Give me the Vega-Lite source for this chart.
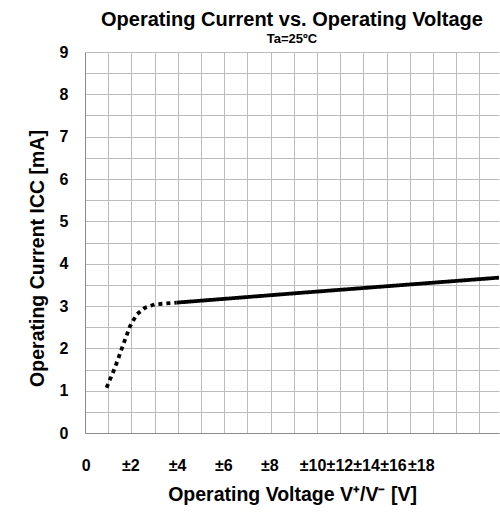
{
  "$schema": "https://vega.github.io/schema/vega-lite/v6.json",
  "width": 414,
  "height": 381,
  "autosize": "none",
  "padding": {"left": 85, "top": 52, "right": 1, "bottom": 79},
  "background": "white",
  "config": {"view": {"stroke": null}, "font": "Liberation Sans"},
  "title": {
    "text": "Operating Current vs. Operating Voltage",
    "subtitle": "Ta=25ºC",
    "fontSize": 20,
    "fontWeight": "bold",
    "color": "black",
    "subtitleFontSize": 13,
    "subtitleFontWeight": "bold",
    "subtitleColor": "black",
    "font": "Liberation Sans",
    "subtitleFont": "Liberation Sans",
    "anchor": "middle",
    "offset": -2,
    "subtitlePadding": 3
  },
  "datasets": {
    "curve": [
      {"v": 0.93, "i": 1.07, "seg": "dot"},
      {"v": 1.29, "i": 1.54, "seg": "dot"},
      {"v": 1.65, "i": 2.09, "seg": "dot"},
      {"v": 1.94, "i": 2.52, "seg": "dot"},
      {"v": 2.23, "i": 2.8, "seg": "dot"},
      {"v": 2.59, "i": 2.96, "seg": "dot"},
      {"v": 3.02, "i": 3.04, "seg": "dot"},
      {"v": 3.5, "i": 3.06, "seg": "dot"},
      {"v": 3.95, "i": 3.08, "seg": "dot"},
      {"v": 3.95, "i": 3.08, "seg": "solid"},
      {"v": 9.27, "i": 3.31, "seg": "solid"},
      {"v": 17.85, "i": 3.67, "seg": "solid"}
    ],
    "xlabels": [
      {"v": 0.05, "t": "0"},
      {"v": 1.98, "t": "±2"},
      {"v": 3.99, "t": "±4"},
      {"v": 5.99, "t": "±6"},
      {"v": 7.97, "t": "±8"},
      {"v": 9.83, "t": "±10"},
      {"v": 10.99, "t": "±12"},
      {"v": 12.14, "t": "±14"},
      {"v": 13.3, "t": "±16"},
      {"v": 14.5, "t": "±18"}
    ]
  },
  "layer": [
    {
      "data": {"name": "curve"},
      "mark": {"type": "line", "strokeWidth": 3.8, "color": "black", "strokeCap": "butt", "clip": true},
      "encoding": {
        "x": {
          "field": "v",
          "type": "quantitative",
          "scale": {"domain": [0, 17.85], "nice": false, "zero": false},
          "axis": {
            "tickCount": 18,
            "labels": false,
            "ticks": false,
            "grid": true,
            "gridColor": "#bcbcbc",
            "gridWidth": 1,
            "domainColor": "#8c8c8c",
            "title": "Operating Voltage V⁺/V⁻ [V]",
            "titleFontSize": 19.5,
            "titleFontWeight": "bold",
            "titleColor": "black",
            "titlePadding": 52
          }
        },
        "y": {
          "field": "i",
          "type": "quantitative",
          "scale": {"domain": [0, 9], "nice": false},
          "axis": {
            "values": [0, 0.5, 1, 1.5, 2, 2.5, 3, 3.5, 4, 4.5, 5, 5.5, 6, 6.5, 7, 7.5, 8, 8.5, 9],
            "labelExpr": "datum.value % 1 == 0 ? format(datum.value, 'd') : ''",
            "labelFontSize": 16,
            "labelFontWeight": "bold",
            "labelColor": "black",
            "labelPadding": 17,
            "ticks": false,
            "grid": true,
            "gridColor": "#bcbcbc",
            "gridWidth": 1,
            "domainColor": "#8c8c8c",
            "title": "Operating Current ICC [mA]",
            "titleFontSize": 19.5,
            "titleFontWeight": "bold",
            "titleColor": "black",
            "titlePadding": 12,
            "titleY": 206
          }
        },
        "strokeDash": {
          "field": "seg",
          "type": "nominal",
          "scale": {"domain": ["dot", "solid"], "range": [[4, 4], [1, 0]]},
          "legend": null
        }
      }
    },
    {
      "data": {"name": "xlabels"},
      "mark": {"type": "text", "fontSize": 16, "fontWeight": "bold", "color": "black", "baseline": "alphabetic", "dy": 38},
      "encoding": {
        "x": {"field": "v", "type": "quantitative"},
        "y": {"value": "height"},
        "text": {"field": "t"}
      }
    }
  ]
}
